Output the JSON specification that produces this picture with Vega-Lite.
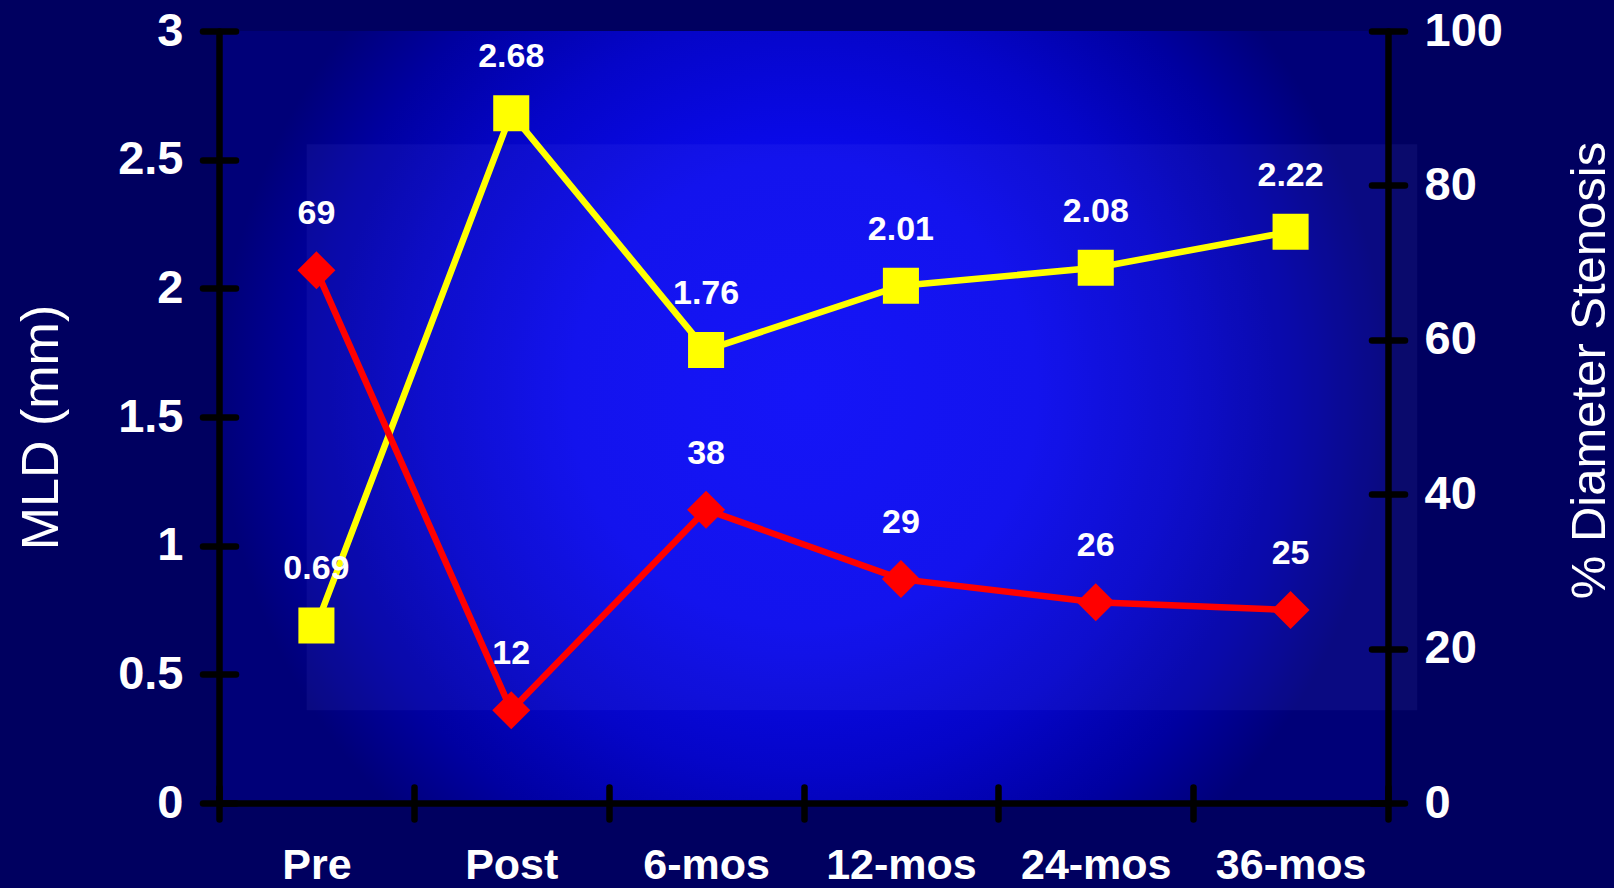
{
  "$schema": "https://vega.github.io/schema/vega-lite/v6.json",
  "width": 1169,
  "height": 772,
  "autosize": {"type": "none"},
  "padding": {"left": 219, "top": 31, "right": 226, "bottom": 85},
  "background": "#000060",
  "config": {
    "view": {"stroke": null},
    "axis": {
      "domainColor": "black",
      "tickColor": "black",
      "domainWidth": 6.5,
      "tickWidth": 6.5,
      "tickCap": "round",
      "domainCap": "round",
      "labelColor": "white",
      "titleColor": "white",
      "labelFont": "Liberation Sans",
      "titleFont": "Liberation Sans",
      "grid": false
    }
  },
  "data": {
    "values": [
      {"t": "Pre", "mld": 0.69, "ds": 69},
      {"t": "Post", "mld": 2.68, "ds": 12},
      {"t": "6-mos", "mld": 1.76, "ds": 38},
      {"t": "12-mos", "mld": 2.01, "ds": 29},
      {"t": "24-mos", "mld": 2.08, "ds": 26},
      {"t": "36-mos", "mld": 2.22, "ds": 25}
    ]
  },
  "layer": [
    {
      "data": {"values": [{}]},
      "mark": {
        "type": "rect",
        "fill": {
          "gradient": "radial",
          "x1": 0.5, "y1": 0.48, "r1": 0,
          "x2": 0.5, "y2": 0.48, "r2": 0.5,
          "stops": [
            {"offset": 0, "color": "#0C0CF8"},
            {"offset": 0.4, "color": "#0A0AEC"},
            {"offset": 0.65, "color": "#0505C8"},
            {"offset": 0.85, "color": "#0000A0"},
            {"offset": 1, "color": "#000078"}
          ]
        }
      },
      "encoding": {
        "y": {"datum": 0, "type": "quantitative", "scale": {"domain": [0, 100], "nice": false},
              "axis": {"orient": "right", "domain": true, "ticks": false, "labels": false, "title": null, "zindex": 2}},
        "y2": {"datum": 100}
      }
    },
    {
      "data": {"values": [{}]},
      "mark": {"type": "rect", "fill": "#8080FF", "opacity": 0.08},
      "encoding": {
        "x": {"datum": 0.45, "type": "quantitative", "scale": {"domain": [0, 6], "nice": false, "zero": false},
              "axis": {"orient": "bottom", "domain": true, "ticks": false, "labels": false, "title": null, "zindex": 2}},
        "x2": {"datum": 6.15},
        "y": {"datum": 2.56, "type": "quantitative", "scale": {"domain": [0, 3], "nice": false},
              "axis": {"orient": "left", "domain": true, "ticks": false, "labels": false, "title": null, "zindex": 2}},
        "y2": {"datum": 0.36}
      }
    },
    {
      "encoding": {
        "x": {
          "field": "t", "type": "nominal", "bandPosition": 0.5,
          "scale": {"type": "band", "domain": ["Pre", "Post", "6-mos", "12-mos", "24-mos", "36-mos"], "paddingInner": 0, "paddingOuter": 0},
          "axis": {
            "orient": "bottom", "offset": -16, "tickSize": 32, "tickBand": "extent", "domain": false, "zindex": 2,
            "labelFontSize": 43, "labelFontWeight": "bold", "labelPadding": 25.5, "labelAngle": 0, "title": null
          }
        },
        "y": {
          "field": "mld", "type": "quantitative",
          "scale": {"domain": [0, 3], "nice": false},
          "axis": {
            "orient": "left", "offset": -16.5, "tickSize": 33, "domain": false, "zindex": 2,
            "values": [0, 0.5, 1, 1.5, 2, 2.5, 3], "format": ".1~f",
            "labelFontSize": 47, "labelFontWeight": "bold", "labelPadding": 19.5,
            "title": "MLD (mm)", "titleFontSize": 52, "titleFontWeight": "normal",
            "titleAngle": 270, "titleBaseline": "alphabetic", "titleAlign": "center",
            "titleX": -178.5, "titleY": 396
          }
        }
      },
      "layer": [
        {"mark": {"type": "line", "color": "#FFFF00", "strokeWidth": 6.5}},
        {"mark": {"type": "point", "shape": "square", "filled": true, "color": "#FFFF00", "size": 1300, "opacity": 1}},
        {
          "mark": {"type": "text", "dy": -46, "baseline": "alphabetic", "font": "Liberation Sans", "fontWeight": "bold", "fontSize": 34, "color": "white"},
          "encoding": {"text": {"field": "mld", "type": "quantitative", "format": ".2f"}}
        }
      ]
    },
    {
      "encoding": {
        "x": {
          "field": "t", "type": "nominal", "bandPosition": 0.5,
          "scale": {"type": "band", "domain": ["Pre", "Post", "6-mos", "12-mos", "24-mos", "36-mos"], "paddingInner": 0, "paddingOuter": 0},
          "axis": null
        },
        "y": {
          "field": "ds", "type": "quantitative",
          "scale": {"domain": [0, 100], "nice": false},
          "axis": {
            "orient": "right", "offset": -16.5, "tickSize": 33, "domain": false, "zindex": 2,
            "values": [0, 20, 40, 60, 80, 100], "format": "d",
            "labelFontSize": 47, "labelFontWeight": "bold", "labelPadding": 19.5,
            "title": "% Diameter Stenosis", "titleFontSize": 49, "titleFontWeight": "normal",
            "titleAngle": 270, "titleBaseline": "alphabetic", "titleAlign": "center",
            "titleX": 232.5, "titleY": 339
          }
        }
      },
      "layer": [
        {"mark": {"type": "line", "color": "#FF0000", "strokeWidth": 6.5}},
        {"mark": {"type": "point", "shape": "diamond", "filled": true, "color": "#FF0000", "size": 1444, "opacity": 1}},
        {
          "mark": {"type": "text", "dy": -46, "baseline": "alphabetic", "font": "Liberation Sans", "fontWeight": "bold", "fontSize": 34, "color": "white"},
          "encoding": {"text": {"field": "ds", "type": "quantitative", "format": "d"}}
        }
      ]
    }
  ],
  "resolve": {
    "scale": {"x": "independent", "y": "independent"},
    "axis": {"x": "independent", "y": "independent"}
  }
}
